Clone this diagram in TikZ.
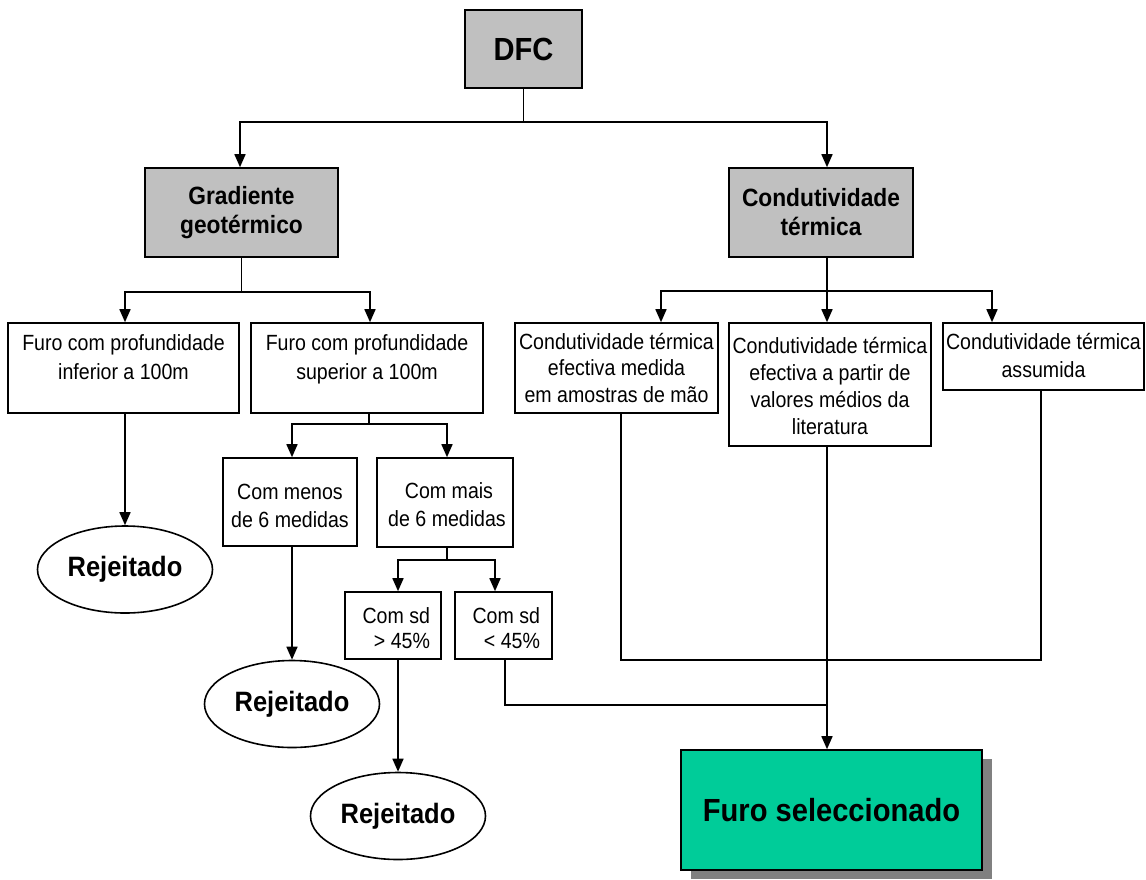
\documentclass[tikz,border=0pt]{standalone}
\usepackage{fontspec}
\setmainfont{Liberation Sans}[FakeStretch=0.89]
\newfontfamily\hfont{Liberation Sans}[FakeStretch=0.91]
\usetikzlibrary{arrows.meta,shapes.geometric,shadows}

\definecolor{hdrgray}{HTML}{C0C0C0}
\definecolor{selgreen}{HTML}{00CC99}
\definecolor{shadowgray}{HTML}{808080}

% width, height, first-baseline offset, baselineskip, text
\newcommand\boxtxt[5]{\parbox[c][#2][t]{#1}{\fontsize{22}{#4}\selectfont\centering\rule{0pt}{#3}#5}}
\newcommand\boxtxtr[5]{\parbox[c][#2][t]{#1}{\fontsize{22}{#4}\selectfont\raggedleft\rule{0pt}{#3}#5}}

\tikzset{
  conn/.style={line width=1.6pt},
  arr/.style={conn, -{Triangle[length=13pt,width=11pt]}},
  box/.style={draw, line width=1.6pt, rectangle, inner sep=0pt, fill=white},
  hdr/.style={box, fill=hdrgray, align=center, font=\hfont\bfseries\fontsize{25}{29}\selectfont},
  rej/.style={draw, ellipse, line width=1.6pt, inner sep=0pt, fill=white,
    minimum width=175pt, minimum height=87pt,
    font=\hfont\bfseries\fontsize{28}{32}\selectfont},
}

\begin{document}
\begin{tikzpicture}[x=1pt,y=-1pt]
\useasboundingbox[fill=white] (0,0) rectangle (1146,879);

% header boxes
\node[hdr, minimum width=117, minimum height=78, font=\hfont\bfseries\fontsize{32}{36}\selectfont] (dfc) at (523.5,49) {DFC};
\node[hdr, minimum width=193, minimum height=89] (grad) at (241.5,212.5) {Gradiente\\geotérmico};
\node[hdr, minimum width=184, minimum height=89] (cond) at (821,212.5) {Condutividade\\térmica};

% gradient branch
\node[box, minimum width=231, minimum height=90] (inf) at (123.5,368)
  {\boxtxt{231pt}{90pt}{27pt}{29pt}{Furo com profundidade\\inferior a 100m}};
\node[box, minimum width=232, minimum height=90] (sup) at (367,368)
  {\boxtxt{232pt}{90pt}{27pt}{29pt}{Furo com profundidade\\superior a 100m}};
\node[box, minimum width=134, minimum height=88] (menos) at (290,502)
  {\boxtxt{134pt}{88pt}{41pt}{28pt}{Com menos\\de 6 medidas}};
\node[box, minimum width=136, minimum height=89] (mais) at (445,502.5)
  {\boxtxt{136pt}{89pt}{40pt}{28pt}{\hspace*{8pt}Com mais\\\hspace*{4pt}de 6 medidas}};
\node[box, minimum width=96, minimum height=67] (sdg) at (393,625.5)
  {\boxtxtr{74pt}{67pt}{31pt}{25pt}{Com sd\\> 45\%}};
\node[box, minimum width=97, minimum height=67] (sdl) at (503.5,625.5)
  {\boxtxtr{73pt}{67pt}{31pt}{25pt}{Com sd\\< 45\%}};

\node[rej] (rej1) at (125,569.5) {Rejeitado};
\node[rej] (rej2) at (292,704) {Rejeitado};
\node[rej] (rej3) at (398,816) {Rejeitado};

% conductivity branch
\node[box, minimum width=203, minimum height=90] (ct1) at (616.5,368)
  {\boxtxt{203pt}{90pt}{26pt}{26.5pt}{Condutividade térmica\\efectiva medida\\em amostras de mão}};
\node[box, minimum width=202, minimum height=123] (ct2) at (830,384.5)
  {\boxtxt{202pt}{123pt}{30pt}{27pt}{Condutividade térmica\\efectiva a partir de\\valores médios da\\literatura}};
\node[box, minimum width=201, minimum height=67] (ct3) at (1043.5,356.5)
  {\boxtxt{201pt}{67pt}{26pt}{28pt}{Condutividade térmica\\assumida}};

% selected
\node[box, fill=selgreen, minimum width=301, minimum height=120,
  drop shadow={shadow xshift=10pt, shadow yshift=-9pt, fill=shadowgray, opacity=1},
  font=\hfont\bfseries\fontsize{32}{36}\selectfont] (furo) at (831.5,810) {Furo seleccionado};

% junction points
\coordinate (j1) at (523.5,122);
\coordinate (j2) at (241.5,292);
\coordinate (j3) at (827,291);
\coordinate (j4) at (369,424);
\coordinate (j5) at (447,560);
\coordinate (j6) at (827,705);
\coordinate (j7) at (621,660);
\coordinate (j8) at (1041,660);

% connectors
\draw[conn] (dfc.south) -- (j1);
\draw[arr] (j1) -| ([xshift=-1.5]grad.north);
\draw[arr] (j1) -| ([xshift=6]cond.north);

\draw[conn] (grad.south) -- (j2);
\draw[arr] (j2) -| ([xshift=1.5]inf.north);
\draw[arr] (j2) -| ([xshift=3]sup.north);
\draw[arr] ([xshift=1.5]inf.south) -- (rej1.north);

\draw[conn] ([xshift=2]sup.south) -- (j4);
\draw[arr] (j4) -| ([xshift=2]menos.north);
\draw[arr] (j4) -| ([xshift=2]mais.north);
\draw[arr] ([xshift=2]menos.south) -- (rej2.north);

\draw[conn] ([xshift=2]mais.south) -- (j5);
\draw[arr] (j5) -| ([xshift=5]sdg.north);
\draw[arr] (j5) -| ([xshift=-8.5]sdl.north);
\draw[arr] ([xshift=5]sdg.south) -- (rej3.north);
\draw[conn] ([xshift=1.5]sdl.south) |- (j6);

\draw[conn] ([xshift=6]cond.south) -- (j3);
\draw[arr] (j3) -| ([xshift=44.5]ct1.north);
\draw[arr] (j3) -- ([xshift=-3]ct2.north);
\draw[arr] (j3) -| ([xshift=-51.5]ct3.north);

\draw[conn] ([xshift=4.5]ct1.south) -- (j7) -- (j8) -- ([xshift=-2.5]ct3.south);
\draw[arr] ([xshift=-3]ct2.south) -- (furo.north -| j3);
\end{tikzpicture}
\end{document}
